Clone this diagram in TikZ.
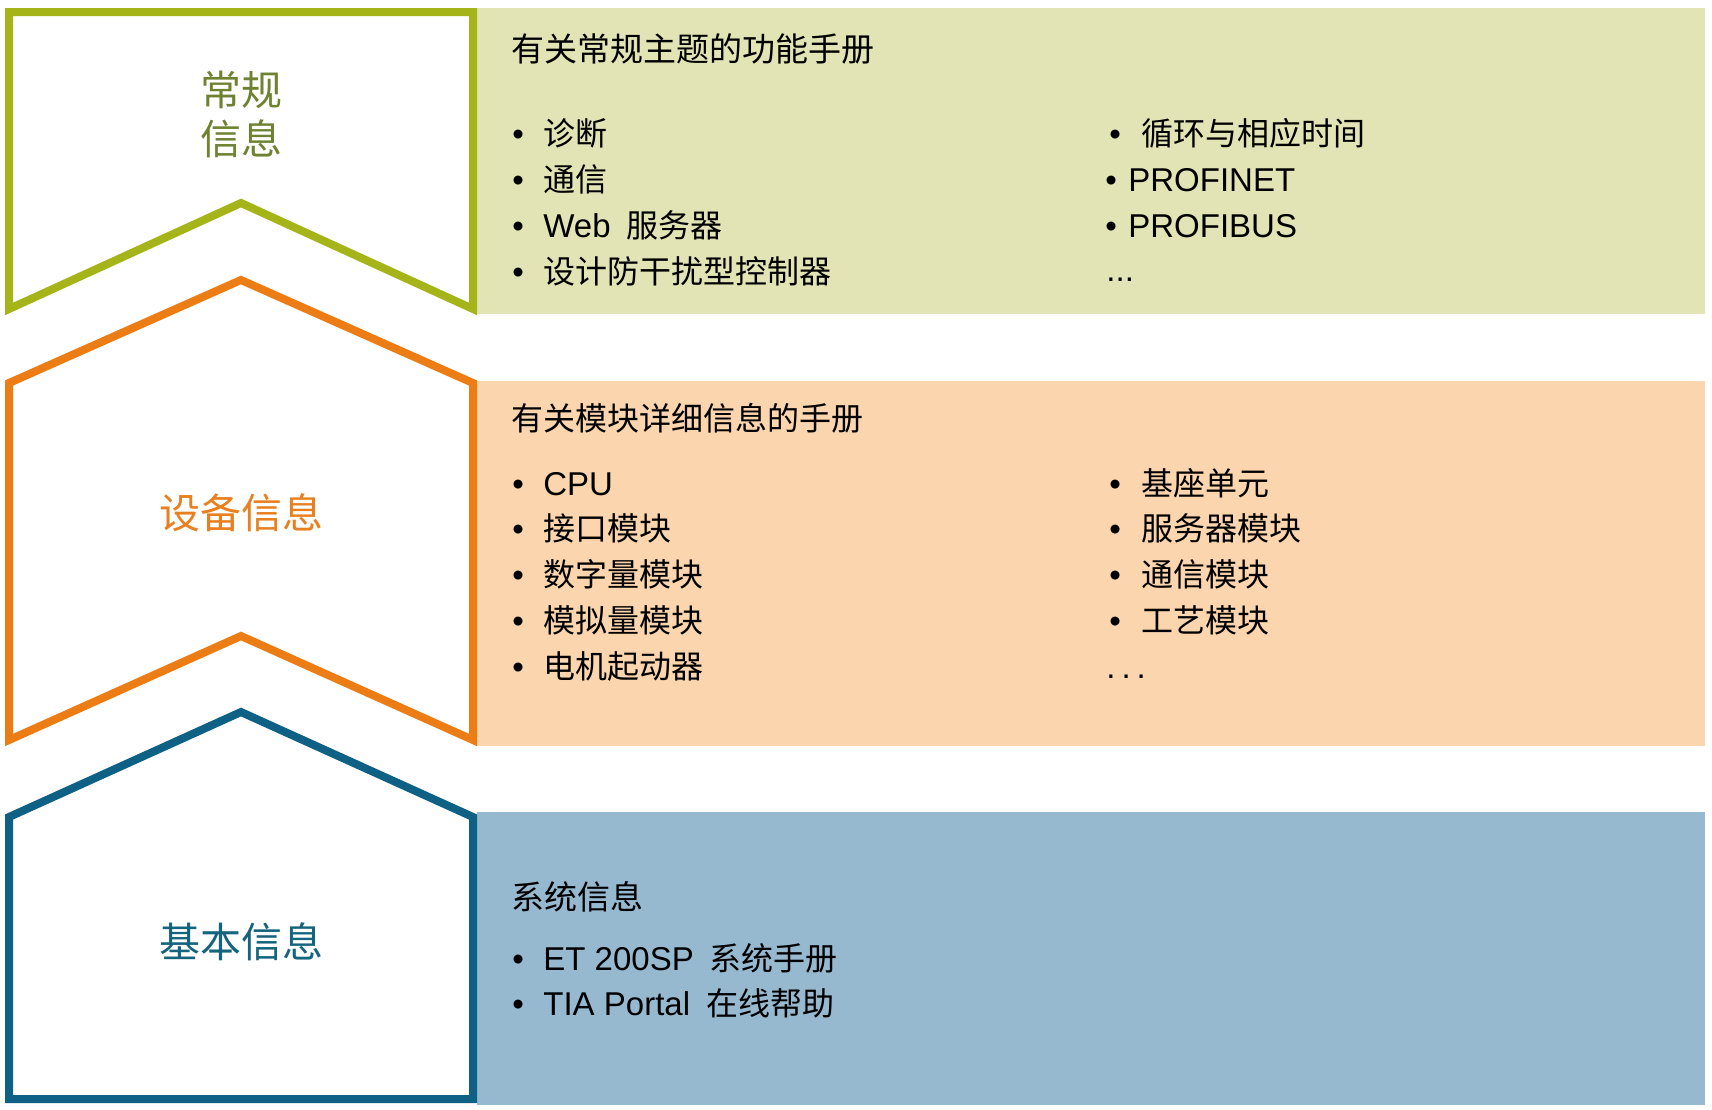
\documentclass[tikz,border=0pt]{standalone}
\usepackage{fontspec}
\setmainfont{Liberation Sans}
\newfontfamily\cjkfont{Noto Sans CJK SC}

\definecolor{grnline}{RGB}{165,180,25}
\definecolor{grnfill}{RGB}{227,228,181}
\definecolor{grntext}{RGB}{110,130,50}
\definecolor{orgline}{RGB}{236,124,20}
\definecolor{orgfill}{RGB}{251,213,174}
\definecolor{orgtext}{RGB}{232,128,32}
\definecolor{bluline}{RGB}{14,96,133}
\definecolor{blufill}{RGB}{150,185,208}
\definecolor{blutext}{RGB}{20,100,125}

\newcommand\zh[1]{{\cjkfont\fontsize{16pt}{18pt}\selectfont #1}}
\newcommand\bul[1]{\makebox[#1][l]{\textbullet}}

\begin{document}
\begin{tikzpicture}[x=0.5pt, y=-0.5pt,
    frame/.style={line width=4pt, line join=miter, fill=white},
    itm/.style={anchor=base west, inner sep=0pt, font=\fontsize{16.5pt}{20pt}\selectfont},
    hdr/.style={anchor=base west, inner sep=0pt, font=\cjkfont\fontsize{16.5pt}{20pt}\selectfont},
    lbl/.style={align=center, inner sep=0pt, font=\cjkfont\fontsize{20.5pt}{24.5pt}\selectfont}]
    \useasboundingbox (0,0) rectangle (1712,1109);

    % coloured bands
    \fill[grnfill] (477,8) rectangle (1705,314);
    \fill[orgfill] (477,381) rectangle (1705,746);
    \fill[blufill] (477,812) rectangle (1705,1105);

    % outlines on the left
    \draw[frame, draw=grnline] (9,12) -- (473,12) -- (473,309) -- (241,203) -- (9,309) -- cycle;
    \draw[frame, draw=orgline] (9,740) -- (9,383) -- (241,280) -- (473,383) -- (473,740) -- (241,636) -- cycle;
    \draw[frame, draw=bluline] (9,1099) -- (9,817) -- (241,712) -- (473,817) -- (473,1099) -- cycle;

    \node[lbl, text=grntext] (genlbl) at (241,114) {常规\\信息};
    \node[lbl, text=orgtext] (devlbl) at (241,513) {设备信息};
    \node[lbl, text=blutext] (baslbl) at (241,942) {基本信息};

    % general topics
    \node[hdr] (genhdr) at (511,61) {有关常规主题的功能手册};
    \node[itm] (gen1) at (512,145) {\bul{15.5pt}\zh{诊断}};
    \node[itm] (gen2) at (512,191) {\bul{15.5pt}\zh{通信}};
    \node[itm] (gen3) at (512,237) {\bul{15.5pt}Web\hspace{8pt}\zh{服务器}};
    \node[itm] (gen4) at (512,283) {\bul{15.5pt}\zh{设计防干扰型控制器}};
    \node[itm] (gen5) at (1109,145) {\bul{16pt}\zh{循环与相应时间}};
    \node[itm] (gen6) at (1105,191) {\bul{11.5pt}PROFINET};
    \node[itm] (gen7) at (1105,237) {\bul{11.5pt}PROFIBUS};
    \node[itm] (gen8) at (1106,281) {...};

    % device topics
    \node[hdr, font=\cjkfont\fontsize{16pt}{20pt}\selectfont] (devhdr) at (511,430) {有关模块详细信息的手册};
    \node[itm] (dev1) at (512,495) {\bul{15.5pt}CPU};
    \node[itm] (dev2) at (512,540) {\bul{15.5pt}\zh{接口模块}};
    \node[itm] (dev3) at (512,586) {\bul{15.5pt}\zh{数字量模块}};
    \node[itm] (dev4) at (512,632) {\bul{15.5pt}\zh{模拟量模块}};
    \node[itm] (dev5) at (512,678) {\bul{15.5pt}\zh{电机起动器}};
    \node[itm] (dev6) at (1109,495) {\bul{16pt}\zh{基座单元}};
    \node[itm] (dev7) at (1109,540) {\bul{16pt}\zh{服务器模块}};
    \node[itm] (dev8) at (1109,586) {\bul{16pt}\zh{通信模块}};
    \node[itm] (dev9) at (1109,632) {\bul{16pt}\zh{工艺模块}};
    \node[itm] (dev10) at (1106,678) {.\hspace{3pt}.\hspace{3pt}.};

    % basic topics
    \node[hdr] (bashdr) at (511,909) {系统信息};
    \node[itm] (bas1) at (512,970) {\bul{15.5pt}ET 200SP\hspace{8pt}\zh{系统手册}};
    \node[itm] (bas2) at (512,1015) {\bul{15.5pt}TIA Portal\hspace{8pt}\zh{在线帮助}};
\end{tikzpicture}
\end{document}
